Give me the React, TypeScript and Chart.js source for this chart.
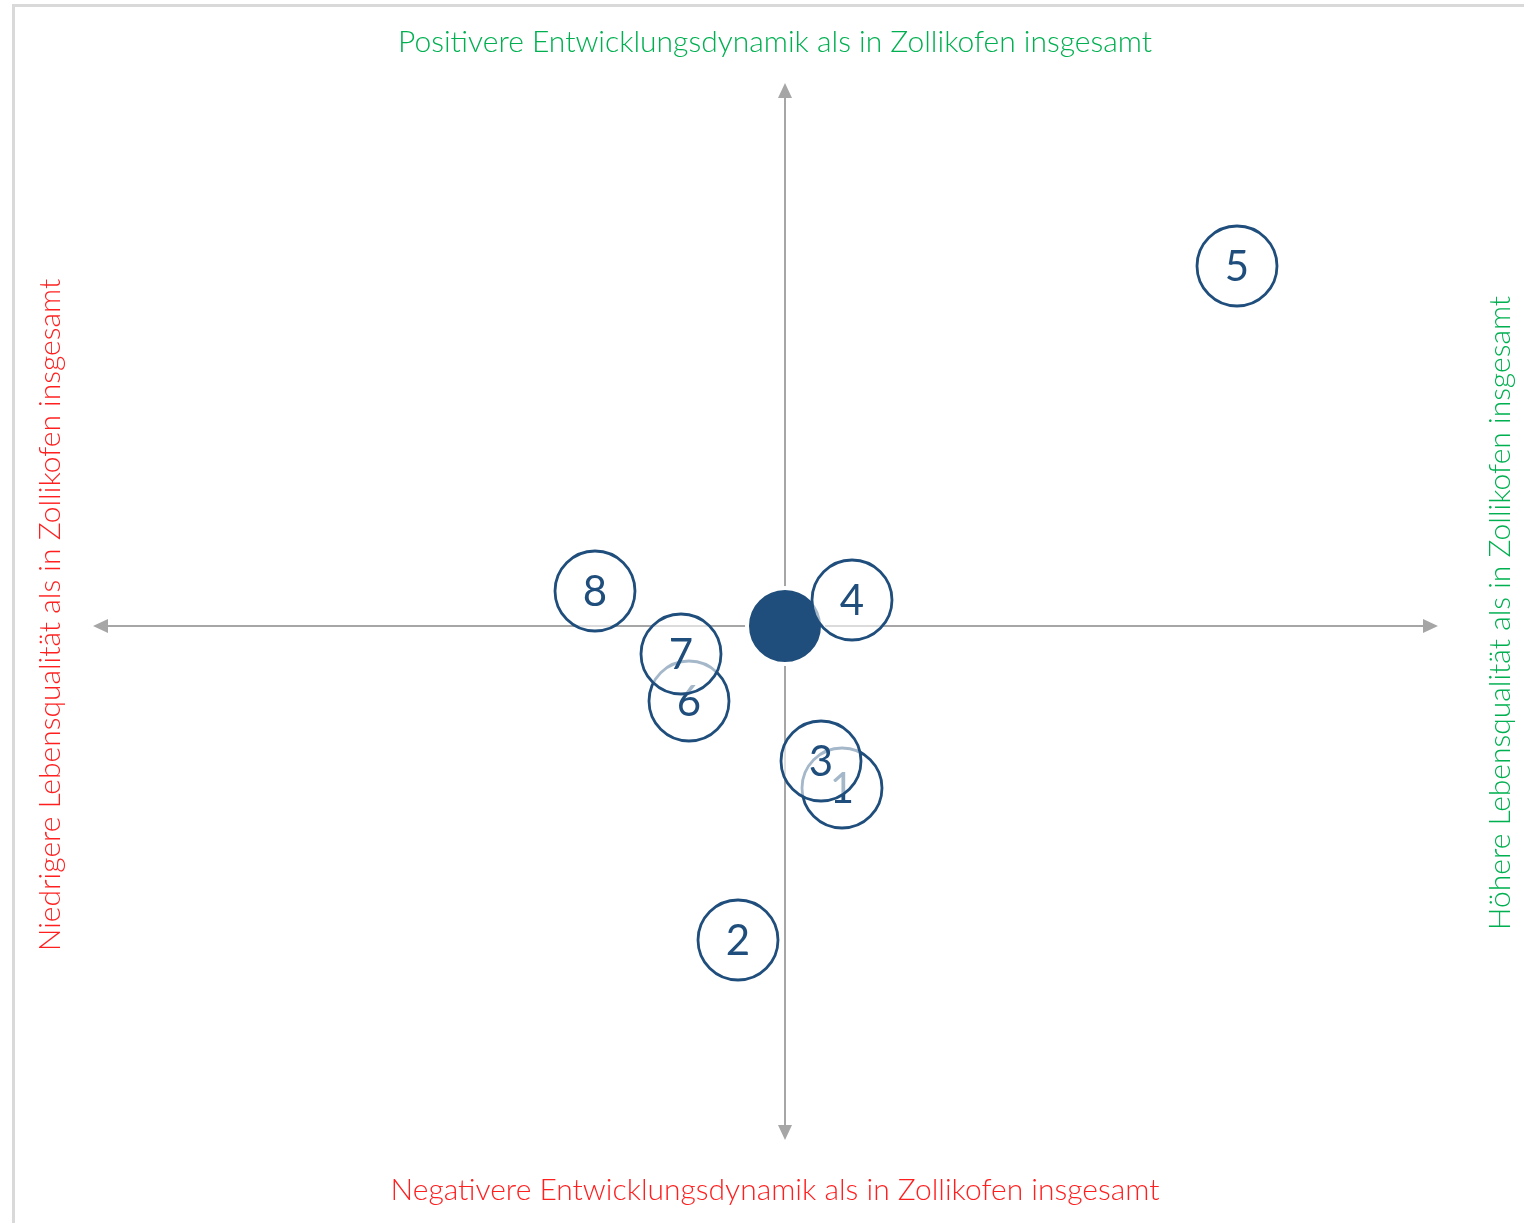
import React, { useEffect, useRef } from "react";
import { Chart, registerables } from "chart.js";

Chart.register(...registerables);

// Bubble labels and positions (x: Lebensqualität, y: Entwicklungsdynamik), relative to Zollikofen overall (0,0)
const labels = ["1", "2", "3", "4", "5", "6", "7", "8"];
const xValues = [0.57, -0.47, 0.36, 0.67, 4.52, -0.96, -1.04, -1.9];
const yValues = [-1.62, -3.14, -1.35, 0.26, 3.6, -0.75, -0.28, 0.35];
const centerPoint = [0, 0];

// Scale ranges and axis arrow extents
const xRange = [-7.85, 7.39];
const yRange = [-5.97, 6.26];
const xAxisExtent = [-6.92, 6.53];
const yAxisExtent = [-5.14, 5.43];

const topTitle = "Positivere Entwicklungsdynamik als in Zollikofen insgesamt";
const bottomTitle = "Negativere Entwicklungsdynamik als in Zollikofen insgesamt";
const leftTitle = "Niedrigere Lebensqualität als in Zollikofen insgesamt";
const rightTitle = "Höhere Lebensqualität als in Zollikofen insgesamt";

const BLUE = "#1f4e7c";
const GREEN = "#00b050";
const RED = "#ff1f1f";
const AXIS = "#a6a6a6";
const FONT = "Lato, 'Noto Sans', sans-serif";

export default function App() {
  const ref = useRef<HTMLCanvasElement | null>(null);

  useEffect(() => {
    if (!ref.current) return;

    const decorPlugin = {
      id: "decor",
      beforeDraw(chart: any) {
        const ctx = chart.ctx;
        ctx.save();
        ctx.fillStyle = "#ffffff";
        ctx.fillRect(0, 0, chart.width, chart.height);
        ctx.fillStyle = "#d9d9d9";
        ctx.fillRect(12, 4, chart.width - 12, 3);
        ctx.fillRect(12, 4, 3, chart.height - 4);
        ctx.restore();
      },
      beforeDatasetsDraw(chart: any) {
        const ctx = chart.ctx;
        const xs = chart.scales.x;
        const ys = chart.scales.y;
        const x0 = xs.getPixelForValue(0);
        const y0 = ys.getPixelForValue(0);
        const xl = xs.getPixelForValue(xAxisExtent[0]);
        const xr = xs.getPixelForValue(xAxisExtent[1]);
        const yt = ys.getPixelForValue(yAxisExtent[1]);
        const yb = ys.getPixelForValue(yAxisExtent[0]);
        const head = 15;
        const hw = 7;
        ctx.save();
        ctx.strokeStyle = AXIS;
        ctx.fillStyle = AXIS;
        ctx.lineWidth = 2;
        ctx.beginPath();
        ctx.moveTo(xl + head, y0);
        ctx.lineTo(xr - head, y0);
        ctx.moveTo(x0, yt + head);
        ctx.lineTo(x0, yb - head);
        ctx.stroke();
        // arrow heads
        ctx.beginPath();
        ctx.moveTo(xl, y0);
        ctx.lineTo(xl + head, y0 - hw);
        ctx.lineTo(xl + head, y0 + hw);
        ctx.closePath();
        ctx.moveTo(xr, y0);
        ctx.lineTo(xr - head, y0 - hw);
        ctx.lineTo(xr - head, y0 + hw);
        ctx.closePath();
        ctx.moveTo(x0, yt);
        ctx.lineTo(x0 - hw, yt + head);
        ctx.lineTo(x0 + hw, yt + head);
        ctx.closePath();
        ctx.moveTo(x0, yb);
        ctx.lineTo(x0 - hw, yb - head);
        ctx.lineTo(x0 + hw, yb - head);
        ctx.closePath();
        ctx.fill();

        // titles
        ctx.font = `300 30px ${FONT}`;
        ctx.textAlign = "center";
        ctx.textBaseline = "middle";
        ctx.fillStyle = GREEN;
        ctx.fillText(topTitle, 775, 42);
        ctx.fillStyle = RED;
        ctx.fillText(bottomTitle, 775, 1190);
        ctx.save();
        ctx.translate(50, 615);
        ctx.rotate(-Math.PI / 2);
        ctx.fillStyle = RED;
        ctx.fillText(leftTitle, 0, 0);
        ctx.restore();
        ctx.save();
        ctx.translate(1500, 613);
        ctx.rotate(-Math.PI / 2);
        ctx.fillStyle = GREEN;
        ctx.fillText(rightTitle, 0, 0);
        ctx.restore();
        ctx.restore();
      },
      afterDatasetDraw(chart: any, args: any) {
        const ds = chart.data.datasets[args.index];
        if (!ds.numLabel) return;
        const el = args.meta.data[0];
        const ctx = chart.ctx;
        ctx.save();
        ctx.font = `400 42px ${FONT}`;
        ctx.textAlign = "center";
        ctx.textBaseline = "middle";
        ctx.fillStyle = BLUE;
        ctx.fillText(ds.numLabel, el.x, el.y + 1);
        ctx.restore();
      },
    };

    const datasets: any[] = [
      {
        data: [{ x: centerPoint[0], y: centerPoint[1] }],
        pointRadius: 38,
        pointBackgroundColor: BLUE,
        pointBorderColor: "#ffffff",
        pointBorderWidth: 4,
        order: 1,
      },
    ];
    labels.forEach((lab, i) => {
      datasets.push({
        data: [{ x: xValues[i], y: yValues[i] }],
        numLabel: lab,
        pointRadius: 40,
        pointBackgroundColor: "rgba(255,255,255,0.6)",
        pointBorderColor: BLUE,
        pointBorderWidth: 2.8,
        order: -i,
      });
    });

    const chart = new Chart(ref.current, {
      type: "scatter",
      data: { datasets },
      options: {
        animation: false,
        responsive: false,
        layout: { padding: 0, autoPadding: false },
        events: [],
        plugins: { legend: { display: false }, tooltip: { enabled: false } },
        scales: {
          x: { type: "linear", display: false, min: xRange[0], max: xRange[1] },
          y: { type: "linear", display: false, min: yRange[0], max: yRange[1] },
        },
      },
      plugins: [decorPlugin],
    } as any);
    return () => chart.destroy();
  }, []);

  return (
    <div style={{ position: "fixed", left: 0, top: 0, width: 1524, height: 1223 }}>
      <canvas ref={ref} width={1524} height={1223} />
    </div>
  );
}
